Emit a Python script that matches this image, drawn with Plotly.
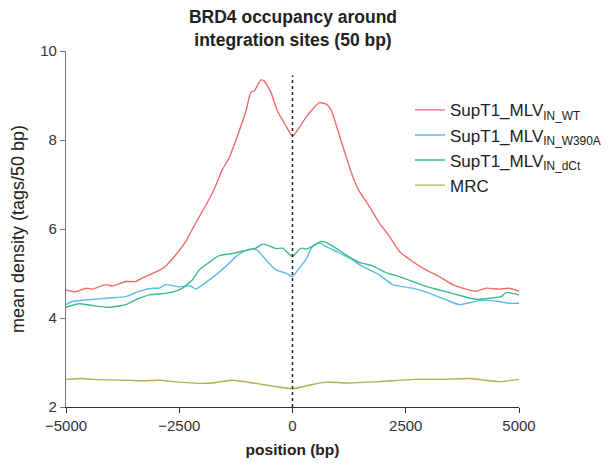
import plotly.graph_objects as go

# ---- data ----
wt_x = [-5000, -4785, -4564, -4418, -4122, -3976, -3680, -3459, -3314, -2945, -2797, -2576,
        -2355, -2209, -1988, -1767, -1546, -1398, -1177, -1029, -919, -846, -698, -625,
        -477, -331, -146, 0, 148, 296, 442, 590, 737, 848, 994, 1179, 1325, 1473, 1694,
        1915, 2136, 2357, 2651, 2946, 3241, 3534, 3830, 4051, 4272, 4566, 4787, 5000]
wt_y = [4.63, 4.59, 4.67, 4.65, 4.75, 4.72, 4.82, 4.82, 4.90, 5.07, 5.17, 5.42,
        5.72, 6.00, 6.40, 6.81, 7.34, 7.60, 8.20, 8.65, 9.07, 9.10, 9.35, 9.33,
        9.07, 8.65, 8.32, 8.09, 8.28, 8.51, 8.69, 8.84, 8.81, 8.69, 8.24, 7.64, 7.19, 6.85, 6.51,
        6.14, 5.84, 5.50, 5.27, 5.08, 4.93, 4.75, 4.65, 4.60, 4.67, 4.65, 4.67, 4.60]

w390a_x = [-5000, -4867, -4498, -4056, -3680, -3386, -3091, -2945, -2797, -2503, -2245, -2134,
           -1914, -1693, -1472, -1251, -1029, -882, -772, -587, -367, -146, 0, 148, 296,
           442, 590, 737, 958, 1252, 1547, 1915, 2210, 2651, 3019, 3387, 3682, 4124, 4419, 4787, 5000]
w390a_y = [4.30, 4.37, 4.41, 4.45, 4.48, 4.60, 4.67, 4.67, 4.75, 4.70, 4.72, 4.65,
           4.80, 4.97, 5.16, 5.38, 5.52, 5.55, 5.52, 5.31, 5.08, 5.01, 4.93, 5.12, 5.31,
           5.61, 5.69, 5.61, 5.50, 5.35, 5.16, 4.97, 4.75, 4.67, 4.56, 4.41, 4.30, 4.39, 4.39, 4.33, 4.33]

dct_x = [-5000, -4713, -4418, -4056, -3680, -3459, -3164, -2945, -2650, -2429, -2209, -2061,
         -1840, -1619, -1325, -1104, -810, -663, -587, -367, -220, 0, 148, 221, 296,
         442, 627, 737, 958, 1179, 1473, 1767, 2062, 2357, 2651, 2946, 3241, 3682, 4051, 4419, 4603, 4713, 5000]
dct_y = [4.24, 4.32, 4.28, 4.24, 4.30, 4.41, 4.52, 4.54, 4.58, 4.67, 4.86, 5.08,
         5.25, 5.40, 5.45, 5.50, 5.57, 5.66, 5.65, 5.56, 5.57, 5.38, 5.54, 5.57, 5.55,
         5.61, 5.72, 5.70, 5.57, 5.42, 5.25, 5.17, 5.02, 4.93, 4.82, 4.71, 4.63, 4.51, 4.42, 4.45, 4.48, 4.57, 4.52]

mrc_x = [-5000, -4646, -4418, -3680, -3314, -2945, -2503, -1988, -1767, -1325, -810, -441,
         0, 369, 737, 1179, 1915, 2725, 3241, 3904, 4566, 5000]
mrc_y = [2.62, 2.64, 2.62, 2.60, 2.59, 2.60, 2.56, 2.53, 2.54, 2.60, 2.53, 2.47,
         2.41, 2.49, 2.56, 2.54, 2.57, 2.62, 2.62, 2.64, 2.57, 2.62]

series = [
    ("SupT1_MLV<sub>IN_WT</sub>", wt_x, wt_y, "#F26B6B"),
    ("SupT1_MLV<sub>IN_W390A</sub>", w390a_x, w390a_y, "#5BBDE8"),
    ("SupT1_MLV<sub>IN_dCt</sub>", dct_x, dct_y, "#3DBB84"),
    ("MRC", mrc_x, mrc_y, "#AFB14C"),
]

x_ticks = [-5000, -2500, 0, 2500, 5000]
x_ticktext = ["\u22125000", "\u22122500", "0", "2500", "5000"]
y_ticks = [2, 4, 6, 8, 10]

FONT = "Liberation Sans, Arial, sans-serif"
W, H = 608, 457  # page adds an 8px body margin, so this fills the 616x465 window

fig = go.Figure()
for name, xs, ys, col in series:
    fig.add_trace(go.Scatter(x=xs, y=ys, mode="lines", name=name,
                             line=dict(color=col, width=1.4, shape="spline", smoothing=0.5)))

fig.add_shape(type="line", x0=0, x1=0, y0=2, y1=9.45, xref="x", yref="y",
              line=dict(color="#222222", width=1.5, dash="dot"))

fig.update_layout(
    width=W, height=H,
    margin=dict(l=58, r=97, t=43, b=58, autoexpand=False),
    paper_bgcolor="white", plot_bgcolor="white",
    font=dict(family=FONT, color="#222222"),
    title=dict(text="<b>BRD4 occupancy around<br>integration sites (50 bp)</b>",
               x=(285 / W), xanchor="center", yref="container", y=1 - 15 / H, yanchor="middle",
               font=dict(size=17.5, color="#222222")),
    showlegend=True,
    legend=dict(x=0.7594, xanchor="left", y=0.884, yanchor="top",
                bgcolor="rgba(0,0,0,0)", font=dict(size=17, color="#222222"),
                tracegroupgap=0),
    xaxis=dict(range=[-5000, 5000], tickvals=x_ticks, ticktext=x_ticktext, automargin=False,
               showgrid=False, zeroline=False, showline=True, linecolor="#333333", linewidth=1.3,
               ticks="outside", ticklen=5, tickcolor="#333333", tickfont=dict(size=15, color="#333333"),
               title=dict(text="<b>position (bp)</b>", font=dict(size=15.5, color="#222222"), standoff=10)),
    yaxis=dict(range=[2, 10], tickvals=y_ticks, automargin=False,
               showgrid=False, zeroline=False, showline=True, linecolor="#777777", linewidth=1.3,
               ticks="outside", ticklen=5, tickcolor="#777777", tickfont=dict(size=15, color="#333333"),
               title=dict(text="mean density (tags/50 bp)", font=dict(size=18, color="#222222"), standoff=12)),
)

fig.write_html("out.html")
